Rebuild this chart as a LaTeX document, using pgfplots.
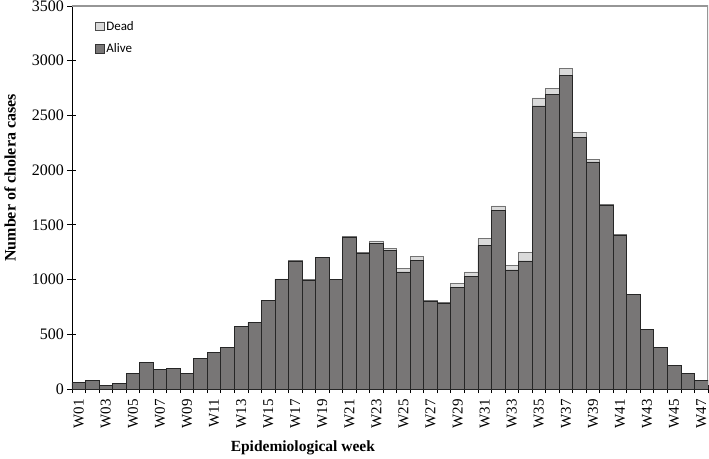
\documentclass[border=0pt]{standalone}
\usepackage{fontspec}
\setmainfont{Liberation Serif}
\newfontfamily\legfont{Carlito}
\usepackage{pgfplots}
\pgfplotsset{compat=1.18}
\usepackage{pgfplotstable}
\definecolor{alivefill}{RGB}{120,118,118}
\definecolor{deadfill}{RGB}{218,218,218}
\definecolor{frame}{RGB}{150,150,150}
\pgfplotstableread{
w alive dead
1 60 0
2 80 0
3 30 0
4 52 0
5 143 0
6 240 0
7 177 0
8 186 0
9 143 0
10 277 0
11 335 0
12 381 0
13 570 0
14 609 0
15 810 0
16 1003 3
17 1168 4
18 996 3
19 1200 4
20 1000 3
21 1389 4
22 1240 5
23 1332 21
24 1268 18
25 1070 30
26 1176 33
27 798 13
28 786 3
29 932 31
30 1027 43
31 1310 64
32 1630 43
33 1088 39
34 1170 76
35 2587 73
36 2690 58
37 2867 64
38 2297 46
39 2075 21
40 1675 10
41 1408 3
42 862 2
43 542 0
44 381 0
45 213 0
46 146 0
47 82 0
}\datatable
\begin{document}
\begin{tikzpicture}
\begin{axis}[
  scale only axis,
  width=636pt, height=383pt,
  xmin=0.5, xmax=47.5,
  ymin=0, ymax=3500,
  ybar stacked,
  bar width=1,
  axis x line*=bottom,
  axis y line*=left,
  axis line style={black, line width=0.9pt},
  xtick={1,3,...,47},
  xticklabels={W01,W03,W05,W07,W09,W11,W13,W15,W17,W19,W21,W23,W25,W27,W29,W31,W33,W35,W37,W39,W41,W43,W45,W47},
  major x tick style={draw=none},
  minor xtick={0.5,1.5,...,47.5},
  minor x tick style={black, line width=0.8pt},
  minor tick length=8pt,
  ytick={0,500,...,3500},
  major tick length=9pt,
  tick align=center,
  y tick style={black, line width=0.8pt},
  x tick label style={rotate=90, anchor=east, font=\fontsize{15}{17}\selectfont, xshift=-2pt},
  y tick label style={font=\fontsize{16}{18}\selectfont},
  /pgf/number format/assume math mode=true,
  /pgf/number format/set thousands separator={},
  xlabel={\textbf{Epidemiological week}},
  ylabel={\textbf{Number of cholera cases}},
  every axis x label/.style={at={(rel axis cs:0.363,0)}, anchor=center, yshift=-59pt, font=\fontsize{15.5}{18}\selectfont},
  every axis y label/.style={at={(rel axis cs:0,0.551)}, xshift=-62pt, rotate=90, anchor=center, font=\fontsize{16}{18}\selectfont},
  legend style={at={(rel axis cs:0.036,0.966)}, anchor=north west, draw=none, fill=none,
    font=\legfont\fontsize{13}{15}\selectfont, row sep=8pt, inner sep=0pt,
    /tikz/every even column/.append style={column sep=2pt}},
  legend cell align=left,
]
\addlegendimage{legend image code/.code={\draw[fill=deadfill, draw=black!70, line width=0.7pt] (0pt,-4pt) rectangle (8.5pt,4.5pt);}}
\addlegendentry{Dead}
\addlegendimage{legend image code/.code={\draw[fill=alivefill, draw=black!80, line width=0.7pt] (0pt,-4pt) rectangle (8.5pt,4.5pt);}}
\addlegendentry{Alive}
\addplot[fill=alivefill, draw=black!85, line width=0.8pt, forget plot] table[x=w, y=alive] {\datatable};
\addplot[fill=deadfill, draw=black!55, line width=0.8pt, forget plot] table[x=w, y=dead] {\datatable};
\draw[frame, line width=1.2pt] (rel axis cs:0,1) -- (rel axis cs:1,1) -- (rel axis cs:1,0);
\end{axis}
\pgfresetboundingbox
\path ([shift={(-72pt,-69pt)}]current axis.south west) rectangle ([shift={(1pt,6pt)}]current axis.north east);
\end{tikzpicture}
\end{document}
